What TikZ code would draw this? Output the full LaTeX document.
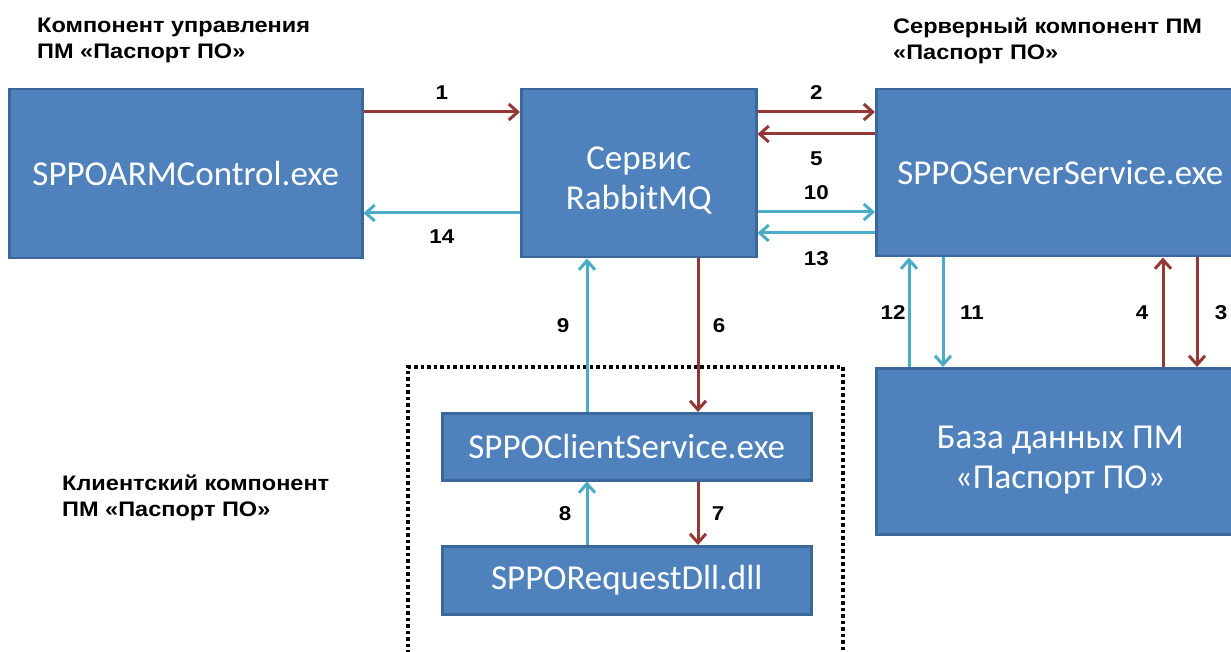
\documentclass[tikz,border=0pt]{standalone}
\usepackage{fontspec}
\setmainfont{Carlito}
\newfontfamily\headfont[FakeStretch=1.12]{Liberation Sans}
\usetikzlibrary{arrows.meta}
\definecolor{boxblue}{HTML}{4F81BD}
\definecolor{boxline}{HTML}{3B679A}
\definecolor{msgred}{HTML}{953735}
\definecolor{msgcyan}{HTML}{4BACC6}

\begin{document}
\begin{tikzpicture}[x=1pt,y=-1pt,
  every node/.style={inner sep=0pt},
  box/.style={draw=boxline,line width=2.5pt,fill=boxblue,text=white,anchor=north west,
    align=center,font=\fontsize{35}{40}\selectfont},
  head/.style={anchor=north west,align=left,font=\headfont\bfseries\fontsize{21}{26}\selectfont},
  num/.style={font=\headfont\bfseries\fontsize{20}{24}\selectfont},
  redmsg/.style={draw=msgred,line width=3pt,-{Straight Barb[length=9pt,width=16pt]}},
  cyanmsg/.style={draw=msgcyan,line width=3pt,-{Straight Barb[length=9pt,width=16pt]}}
  ]
    \useasboundingbox (0,0) rectangle (1231,652);

    % titles of the three components
    \node[head] (armtitle) at (37,18) {Компонент управления\\ПМ «Паспорт ПО»};
    \node[head] (srvtitle) at (893,18) {Серверный компонент ПМ\\«Паспорт ПО»};
    \node[head] (clititle) at (62,475) {Клиентский компонент\\ПМ «Паспорт ПО»};

    % client component frame
    \draw[line width=3.5pt,dash pattern=on 3.5pt off 3pt] (408,660) -- (408,367) -- (843,367) -- (843,660);

    % boxes
    \node[box,minimum width=353pt,minimum height=169pt] (arm) at (8,88) {SPPOARMControl.exe};
    \node[box,minimum width=235pt,minimum height=168pt] (rmq) at (520,88) {\rule{0pt}{38pt}Сервис\\RabbitMQ};
    \node[box,minimum width=368pt,minimum height=167pt] (srv) at (875,88) {SPPOServerService.exe};
    \node[box,minimum width=368pt,minimum height=166pt] (db) at (875,367) {\rule{0pt}{40pt}База данных ПМ\\«Паспорт ПО»};
    \node[box,minimum width=369pt,minimum height=67pt] (cli) at (441,412) {SPPOClientService.exe};
    \node[box,minimum width=369pt,minimum height=68pt] (req) at (441,545) {SPPORequestDll.dll};

    % messages
    \draw[redmsg] (arm.east |- 0,112) -- (rmq.west |- 0,112) node[num,midway,yshift=19pt] {1};
    \draw[redmsg] (rmq.east |- 0,112) -- (srv.west |- 0,112) node[num,midway,yshift=19pt] {2};
    \draw[redmsg] (srv.west |- 0,134) -- (rmq.east |- 0,134) node[num,midway,yshift=-25pt] {5};
    \draw[cyanmsg] (rmq.east |- 0,212) -- (srv.west |- 0,212) node[num,midway,yshift=19pt] {10};
    \draw[cyanmsg] (srv.west |- 0,233) -- (rmq.east |- 0,233) node[num,midway,yshift=-26pt] {13};
    \draw[cyanmsg] (rmq.west |- 0,213) -- (arm.east |- 0,213) node[num,midway,yshift=-24pt] {14};

    \draw[redmsg] (rmq.south -| 698,0) -- (cli.north -| 698,0) node[num,pos=0.44,xshift=21pt] {6};
    \draw[cyanmsg] (cli.north -| 587,0) -- (rmq.south -| 587,0) node[num,pos=0.56,xshift=-24pt] {9};
    \draw[redmsg] (cli.south -| 698,0) -- (req.north -| 698,0) node[num,midway,xshift=20pt] {7};
    \draw[cyanmsg] (req.north -| 587,0) -- (cli.south -| 587,0) node[num,midway,xshift=-22pt] {8};

    \draw[redmsg] (srv.south -| 1197,0) -- (db.north -| 1197,0) node[num,midway,xshift=24pt] {3};
    \draw[redmsg] (db.north -| 1163,0) -- (srv.south -| 1163,0) node[num,midway,xshift=-21pt] {4};
    \draw[cyanmsg] (srv.south -| 943,0) -- (db.north -| 943,0) node[num,midway,xshift=29pt] {11};
    \draw[cyanmsg] (db.north -| 909,0) -- (srv.south -| 909,0) node[num,midway,xshift=-16pt] {12};
\end{tikzpicture}
\end{document}
